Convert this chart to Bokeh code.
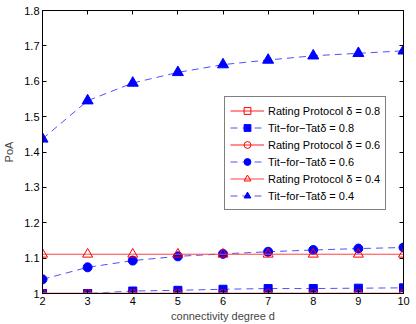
from bokeh.plotting import figure
from bokeh.models import (LinearAxis, FixedTicker, CustomJSTickFormatter, Legend,
                          LegendItem, Range1d)
from bokeh.embed import file_html
from bokeh.resources import INLINE

d = [2, 3, 4, 5, 6, 7, 8, 9, 10]
rating_08 = [1.0] * 9
tft_08 = [1.0, 1.0, 1.007, 1.009, 1.012, 1.014, 1.014, 1.015, 1.016]
rating_06 = [1.0] * 9
tft_06 = [1.04, 1.074, 1.093, 1.105, 1.112, 1.118, 1.123, 1.127, 1.13]
rating_04 = [1.111] * 9
tft_04 = [1.437, 1.545, 1.595, 1.625, 1.647, 1.66, 1.672, 1.679, 1.686]

labels = ["Rating Protocol \u03b4 = 0.8", "Tit\u2212for\u2212Tat\u03b4 = 0.8",
          "Rating Protocol \u03b4 = 0.6", "Tit\u2212for\u2212Tat\u03b4 = 0.6",
          "Rating Protocol \u03b4 = 0.4", "Tit\u2212for\u2212Tat\u03b4 = 0.4"]
x_ticks = [2, 3, 4, 5, 6, 7, 8, 9, 10]
y_ticks = [1.0, 1.1, 1.2, 1.3, 1.4, 1.5, 1.6, 1.7, 1.8]

FONT = "Liberation Sans"

p = figure(width=416, height=324, output_backend="svg", toolbar_location=None,
           x_range=Range1d(2, 10), y_range=Range1d(1.0, 1.8),
           min_border_left=41, min_border_right=13, min_border_top=10,
           min_border_bottom=30)
p.background_fill_color = "white"
p.border_fill_color = "white"
p.outline_line_color = "black"
p.outline_line_width = 1
p.grid.visible = False

fmt = CustomJSTickFormatter(code="return tick.toFixed(1).replace(/\\.0$/, '');")
blank = CustomJSTickFormatter(code="return '';")

for ax in p.xaxis:
    ax.ticker = FixedTicker(ticks=x_ticks)
    ax.major_label_standoff = 3
    ax.axis_label_standoff = 2
for ax in p.yaxis:
    ax.ticker = FixedTicker(ticks=y_ticks)
    ax.formatter = fmt
    ax.major_label_standoff = 3
    ax.axis_label_standoff = 6

for ax in p.xaxis + p.yaxis:
    ax.major_tick_in = 4
    ax.major_tick_out = 0
    ax.minor_tick_in = 0
    ax.minor_tick_out = 0
    ax.major_label_text_font = FONT
    ax.major_label_text_font_size = "11px"
    ax.major_label_text_color = "black"
    ax.axis_label_text_font = FONT
    ax.axis_label_text_font_size = "11px"
    ax.axis_label_text_font_style = "normal"
    ax.axis_line_color = "black"

p.xaxis.axis_label = "connectivity degree d"
p.yaxis.axis_label = "PoA"

# box axes (top, right) with inward ticks, no labels
top = LinearAxis(ticker=FixedTicker(ticks=x_ticks), formatter=blank,
                 major_tick_in=4, major_tick_out=0, minor_tick_in=0, minor_tick_out=0,
                 major_label_standoff=0, axis_line_color="black")
right = LinearAxis(ticker=FixedTicker(ticks=y_ticks), formatter=blank,
                   major_tick_in=4, major_tick_out=0, minor_tick_in=0, minor_tick_out=0,
                   major_label_standoff=0, axis_line_color="black")
p.add_layout(top, "above")
p.add_layout(right, "right")

BLUE = "#0000ff"
DBLUE = "#5050ff"
items = []

# Rating 0.8
l1 = p.line(d, rating_08, line_color="#ff2020", line_width=1)
m1 = p.scatter(d, rating_08, marker="square", size=8, fill_color=None,
               line_color="#ff0000", line_width=1)
items.append(LegendItem(label=labels[0], renderers=[l1, m1]))
# TFT 0.8
l2 = p.line(d, tft_08, line_color=DBLUE, line_width=1, line_dash="7 5")
m2 = p.scatter(d, tft_08, marker="square", size=8, fill_color=BLUE, line_color=BLUE)
items.append(LegendItem(label=labels[1], renderers=[l2, m2]))
# Rating 0.6
l3 = p.line(d, rating_06, line_color="#ff8c8c", line_width=2.2)
m3 = p.scatter(d, rating_06, marker="circle", size=8, fill_color=None,
               line_color="#ff0000", line_width=1)
items.append(LegendItem(label=labels[2], renderers=[l3, m3]))
# TFT 0.6
l4 = p.line(d, tft_06, line_color=DBLUE, line_width=1, line_dash="7 5")
m4 = p.scatter(d, tft_06, marker="circle", size=9, fill_color=BLUE, line_color=BLUE)
items.append(LegendItem(label=labels[3], renderers=[l4, m4]))
# Rating 0.4
l5 = p.line(d, rating_04, line_color="#ff4040", line_width=1)
m5 = p.scatter(d, rating_04, marker="triangle", size=10, fill_color=None,
               line_color="#ff0000", line_width=1)
items.append(LegendItem(label=labels[4], renderers=[l5, m5]))
# TFT 0.4
l6 = p.line(d, tft_04, line_color=DBLUE, line_width=1, line_dash="7 5")
m6 = p.scatter(d, tft_04, marker="triangle", size=11, fill_color=BLUE, line_color=BLUE)
items.append(LegendItem(label=labels[5], renderers=[l6, m6]))

legend = Legend(items=items, location=(182, 83))
legend.label_text_font = FONT
legend.label_text_font_size = "11px"
legend.label_text_color = "black"
legend.glyph_width = 34
legend.glyph_height = 17
legend.label_height = 17
legend.label_standoff = 4
legend.spacing = 0
legend.padding = 5
legend.margin = 0
legend.border_line_color = "black"
legend.border_line_width = 1
legend.background_fill_color = "white"
legend.background_fill_alpha = 1
p.add_layout(legend, "center")

open("out.html", "w").write(file_html(p, INLINE))
